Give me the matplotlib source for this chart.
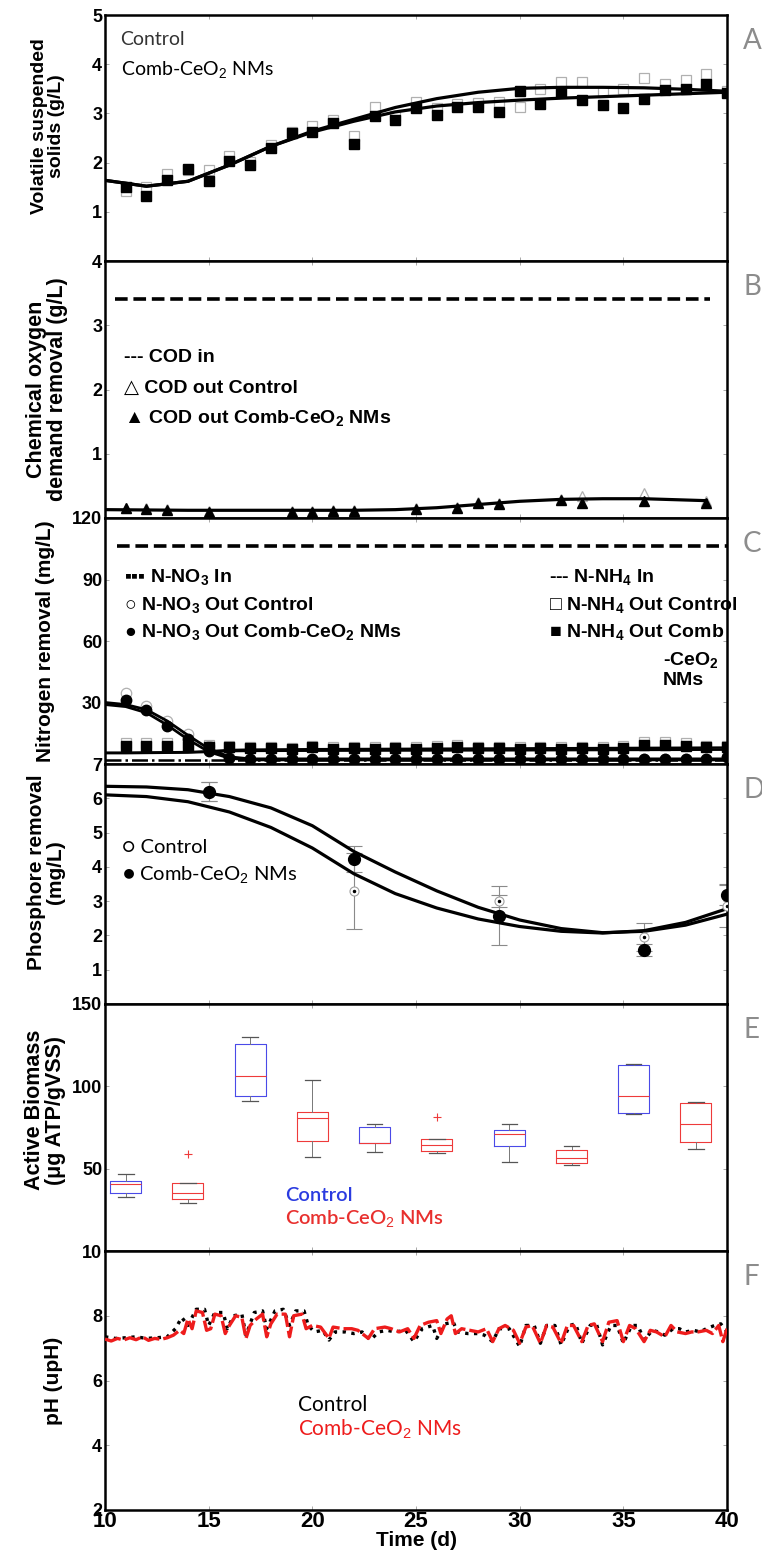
import numpy as np
import matplotlib
matplotlib.use('Agg')
import matplotlib.pyplot as plt

plt.rcParams['font.family'] = ['Liberation Sans', 'DejaVu Sans']
plt.rcParams['mathtext.fontset'] = 'custom'
plt.rcParams['mathtext.rm'] = 'Liberation Sans'
plt.rcParams['mathtext.bf'] = 'Liberation Sans:bold'

# ---------------- DATA ----------------
days = list(range(11, 41))

# Panel A: volatile suspended solids (g/L)
vss_ctrl = [1.42, 1.50, 1.77, 1.85, 1.84, 2.13, 2.02, 2.36, 2.62, 2.74, 2.87, 2.55, 3.12, 2.95, 3.23,
            3.10, 3.20, 3.22, 3.23, 3.14, 3.50, 3.64, 3.63, 3.43, 3.50, 3.71, 3.60, 3.67, 3.81, 3.45]
vss_ceo2 = [1.51, 1.33, 1.65, 1.86, 1.62, 2.04, 1.96, 2.30, 2.60, 2.62, 2.80, 2.38, 2.95, 2.86, 3.10,
            2.97, 3.14, 3.14, 3.03, 3.45, 3.19, 3.43, 3.28, 3.18, 3.10, 3.30, 3.48, 3.50, 3.60, 3.41]
fit_days = [10, 12, 14, 16, 18, 20, 22, 24, 26, 28, 30, 32, 34, 36, 38, 40]
vss_fit_ctrl = [1.64, 1.52, 1.62, 1.95, 2.33, 2.64, 2.88, 3.12, 3.30, 3.43, 3.51, 3.53, 3.53, 3.52, 3.49, 3.45]
vss_fit_ceo2 = [1.64, 1.52, 1.62, 1.95, 2.33, 2.62, 2.84, 3.03, 3.15, 3.22, 3.27, 3.31, 3.34, 3.37, 3.40, 3.43]

# Panel B: COD (g/L)
cod_in_value = 3.41
cod_in_span = [10.5, 39.2]
cod_days = [11, 12, 13, 15, 19, 20, 21, 22, 25, 27, 28, 29, 32, 33, 36, 39]
cod_ctrl = [0.16, 0.15, 0.14, 0.11, 0.11, 0.11, 0.12, 0.12, 0.15, 0.17, 0.25, 0.24, 0.30, 0.35, 0.39, 0.26]
cod_ceo2 = [0.15, 0.14, 0.125, 0.10, 0.10, 0.10, 0.11, 0.11, 0.135, 0.15, 0.23, 0.22, 0.28, 0.24, 0.27, 0.23]
cod_fit_days = [10, 14, 18, 22, 24, 26, 28, 30, 32, 34, 36, 38, 39]
cod_fit = [0.13, 0.12, 0.12, 0.12, 0.13, 0.16, 0.21, 0.26, 0.29, 0.30, 0.30, 0.28, 0.27]

# Panel C: nitrogen (mg/L)
nh4_in_value = 106.2
nh4_in_span = [10.6, 40]
no3_in_value = 1.8
no3_in_span = [10, 40]
no3_ctrl = [34.5, 28.4, 21.0, 14.4, 9.0, 3.5] + [2.5] * 23 + [3.5]
no3_ceo2 = [31.0, 26.5, 18.6, 12.0, 6.4, 3.0] + [2.5] * 23 + [3.5]
nh4_ctrl = [10.0, 10.0, 10.0, 10.0, 9.5, 9.0, 8.5, 8.5, 8.0, 8.7, 8.2, 8.5, 8.2, 8.5, 8.2,
            8.8, 9.5, 8.5, 8.3, 8.2, 8.3, 8.2, 8.5, 8.2, 8.7, 10.5, 10.5, 10.0, 9.0, 9.0]
nh4_ceo2 = [9.0, 9.0, 9.0, 9.0, 8.5, 8.2, 7.8, 7.8, 7.5, 8.2, 7.5, 7.8, 7.5, 7.8, 7.5,
            7.8, 8.5, 7.8, 7.8, 7.5, 7.8, 7.5, 7.8, 7.5, 8.0, 9.5, 9.5, 9.0, 8.3, 8.3]
n_fit_days = [10, 11, 12, 13, 14, 15, 16, 17, 20, 25, 30, 35, 40]
no3_fit_ctrl = [30.0, 29.0, 26.5, 21.0, 14.0, 7.5, 3.5, 2.5, 2.5, 2.5, 2.5, 2.5, 2.5]
no3_fit_ceo2 = [29.0, 28.0, 25.0, 19.0, 12.0, 6.0, 2.8, 2.0, 2.0, 2.0, 2.0, 2.0, 2.0]
nh4_fit_ctrl = [5.5, 5.5, 5.6, 5.7, 5.8, 6.2, 6.8, 7.0, 7.2, 7.4, 7.6, 7.8, 8.0]
nh4_fit_ceo2 = [5.3, 5.3, 5.4, 5.5, 5.6, 5.9, 6.3, 6.4, 6.5, 6.6, 6.7, 6.85, 7.0]

# Panel D: phosphorus (mg/L)
p_days = [15, 22, 29, 36, 40]
p_ctrl = [6.19, 3.30, 3.00, 1.95, 2.86]
p_ctrl_err = [0.28, 1.10, 0.17, 0.40, 0.60]
p_ceo2 = [6.19, 4.22, 2.57, 1.57, 3.19]
p_ceo2_err = [0.28, 0.38, 0.86, 0.17, 0.30]
p_fit_ctrl = [6.10, 6.05, 5.90, 5.60, 5.15, 4.55, 3.80, 3.22, 2.80, 2.48, 2.26, 2.12, 2.07, 2.14, 2.38, 2.78]
p_fit_ceo2 = [6.35, 6.33, 6.25, 6.05, 5.72, 5.20, 4.45, 3.85, 3.30, 2.82, 2.45, 2.20, 2.08, 2.12, 2.30, 2.62]

# Panel E: active biomass box plots (ug ATP/gVSS)
box_pos = [11, 14, 17, 20, 23, 26, 29.5, 32.5, 35.5, 38.5]
box_group = ['Control', 'CeO2'] * 5
box_whislo = [32.7, 29.0, 91.2, 57.1, 60.2, 59.6, 53.9, 52.0, 82.9, 62.0]
box_q1 = [35.3, 31.6, 94.3, 66.7, 65.3, 60.8, 63.5, 53.7, 83.7, 65.9]
box_med = [40.8, 35.5, 106.5, 80.6, 65.7, 64.5, 70.8, 56.7, 94.3, 77.1]
box_q3 = [42.4, 41.2, 126.0, 84.7, 75.1, 67.8, 73.3, 61.2, 112.9, 90.0]
box_whishi = [46.5, 41.4, 130.0, 104.0, 77.1, 67.8, 77.1, 63.9, 113.7, 90.2]
box_fliers = [[], [59.2], [], [], [], [81.2], [], [], [], []]

# Panel F: pH time series
ph_t_ceo2 = [10.0, 10.3, 10.6, 10.9, 11.2, 11.5, 11.8, 12.1, 12.4, 12.7, 13.0, 13.3, 13.6, 13.8, 14.0,
             14.2, 14.4, 14.7, 14.9, 15.1, 15.3, 15.6, 15.8, 16.0, 16.3, 16.6, 16.8, 17.0, 17.3, 17.6,
             17.8, 18.0, 18.3, 18.7, 18.9, 19.1, 19.5, 19.7, 20.0, 20.4, 20.8, 21.0, 21.5, 21.9, 22.2,
             22.7, 23.0, 23.5, 23.8, 24.2, 24.6, 24.9, 25.2, 25.6, 26.0, 26.2, 26.5, 26.7, 26.9, 27.2,
             27.6, 28.0, 28.4, 28.7, 29.0, 29.3, 29.7, 30.0, 30.3, 30.6, 31.0, 31.3, 31.6, 32.0, 32.3,
             32.6, 33.0, 33.3, 33.6, 34.0, 34.3, 34.7, 35.0, 35.3, 35.6, 36.0, 36.3, 36.6, 37.0, 37.3,
             37.6, 38.0, 38.3, 38.6, 39.0, 39.3, 39.6, 39.8, 40.0]
ph_ceo2 = [7.28, 7.22, 7.30, 7.25, 7.32, 7.26, 7.35, 7.24, 7.30, 7.27, 7.32, 7.40, 7.55, 7.45, 7.90,
           7.60, 8.15, 8.10, 7.55, 7.60, 8.05, 8.00, 7.45, 7.70, 8.00, 7.95, 7.30, 7.70, 7.90, 8.05,
           7.35, 7.75, 8.05, 8.05, 7.35, 8.00, 8.05, 7.60, 7.70, 7.65, 7.30, 7.65, 7.60, 7.60, 7.55,
           7.30, 7.60, 7.65, 7.60, 7.50, 7.60, 7.30, 7.70, 7.80, 7.85, 7.45, 7.90, 8.00, 7.45, 7.60,
           7.55, 7.50, 7.60, 7.20, 7.60, 7.70, 7.55, 7.15, 7.65, 7.70, 7.15, 7.70, 7.65, 7.15, 7.70,
           7.70, 7.20, 7.70, 7.75, 7.20, 7.80, 7.85, 7.20, 7.70, 7.60, 7.20, 7.55, 7.50, 7.35, 7.70,
           7.50, 7.45, 7.50, 7.50, 7.55, 7.45, 7.70, 7.20, 7.60]
ph_t_ctrl = [10.0, 10.5, 11.0, 11.5, 12.0, 12.5, 13.0, 13.4, 13.7, 14.0, 14.4, 14.8, 15.0, 15.3, 15.7,
             15.9, 16.2, 16.6, 16.8, 17.2, 17.6, 17.8, 18.2, 18.6, 18.9, 19.2, 19.6, 19.8, 20.1, 20.5,
             20.8, 21.1, 21.6, 22.0, 22.4, 22.8, 23.2, 23.6, 24.0, 24.5, 24.9, 25.3, 25.8, 26.0, 26.4,
             26.8, 27.0, 27.5, 28.0, 28.3, 28.7, 29.0, 29.5, 30.0, 30.3, 30.7, 31.0, 31.3, 31.7, 32.0,
             32.4, 32.7, 33.0, 33.4, 33.7, 34.0, 34.4, 34.7, 35.0, 35.4, 35.7, 36.0, 36.4, 36.7, 37.0,
             37.4, 37.7, 38.0, 38.4, 38.7, 39.0, 39.4, 39.7, 40.0]
ph_ctrl = [7.35, 7.30, 7.32, 7.35, 7.30, 7.32, 7.35, 7.60, 7.95, 7.70, 8.20, 8.20, 7.70, 8.10, 8.10,
           7.60, 8.00, 8.05, 7.40, 8.10, 8.15, 7.60, 8.15, 8.20, 7.70, 8.15, 8.15, 7.70, 7.50, 7.55,
           7.25, 7.50, 7.50, 7.45, 7.50, 7.25, 7.50, 7.55, 7.50, 7.55, 7.20, 7.60, 7.70, 7.30, 7.75,
           7.80, 7.50, 7.45, 7.45, 7.40, 7.20, 7.60, 7.60, 7.05, 7.70, 7.70, 7.15, 7.70, 7.70, 7.10,
           7.70, 7.75, 7.15, 7.70, 7.75, 7.10, 7.70, 7.70, 7.15, 7.70, 7.70, 7.25, 7.55, 7.50, 7.40,
           7.60, 7.60, 7.50, 7.55, 7.50, 7.60, 7.70, 7.75, 7.50]

x_ticks = [10, 15, 20, 25, 30, 35, 40]

# ---------------- FIGURE ----------------
W, H = 762, 1557
fig = plt.figure(figsize=(W / 100, H / 100), dpi=100)

left_px, right_px = 105, 727
panels_px = [(15, 261), (261, 518), (518, 764), (764, 1004), (1004, 1251), (1251, 1510)]
axes = []
for (t, b) in panels_px:
    ax = fig.add_axes([left_px / W, 1 - b / H, (right_px - left_px) / W, (b - t) / H])
    axes.append(ax)

bold = dict(fontweight='bold')
tickfont = 13
narrow = ['Liberation Sans Narrow', 'Liberation Sans', 'DejaVu Sans']
avenir = ['Lato', 'DejaVu Sans']

for i, ax in enumerate(axes):
    ax.set_xlim(10, 40)
    ax.set_xticks(x_ticks)
    for s in ax.spines.values():
        s.set_linewidth(1.8)
        s.set_color('black')
    ax.tick_params(direction='in', length=3, width=0.6, color='#9a9a9a',
                   top=True, right=True, labelsize=tickfont, pad=2)
    for lab in ax.get_yticklabels():
        lab.set_fontweight('bold')
    if i < 5:
        ax.tick_params(labelbottom=False)

# ---- Panel A
ax = axes[0]
ax.plot(days, vss_ctrl, 's', ms=7, mfc='white', mec='#b0b0b0', mew=0.9, zorder=2)
ax.plot(days, vss_ceo2, 's', ms=7, mfc='black', mec='black', zorder=4)
ax.plot(fit_days, vss_fit_ctrl, '-', color='black', lw=2.3, zorder=3)
ax.plot(fit_days, vss_fit_ceo2, '-', color='black', lw=2.3, zorder=3)
ax.set_ylim(0, 5)
ax.set_yticks([1, 2, 3, 4, 5])
ax.text(10.75, 4.5, 'Control', fontsize=14, color='#333333', family=avenir, va='center')
ax.text(10.75, 3.88, r'Comb-CeO$_2$ NMs', fontsize=14, color='black', family=avenir, va='center')
ax.set_ylabel('Volatile suspended\nsolids (g/L)', fontsize=14, linespacing=1.0, **bold)
ax.yaxis.set_label_coords(-0.064, 0.55)

# ---- Panel B
ax = axes[1]
ax.plot(cod_in_span, [cod_in_value] * 2, '--', color='black', lw=2.6, dashes=(3.5, 1.6))
ax.plot(cod_days, cod_ctrl, '^', ms=7, mfc='white', mec='#b0b0b0', mew=0.9, zorder=2)
ax.plot(cod_fit_days, cod_fit, '-', color='black', lw=2.3, zorder=3)
ax.plot(cod_days, cod_ceo2, '^', ms=7, mfc='black', mec='black', zorder=4)
ax.set_ylim(0, 4)
ax.set_yticks([1, 2, 3, 4])
lb = dict(fontsize=14, family=narrow, va='center', **bold)
ax.text(10.9, 2.5, '--- COD in', **lb)
ax.text(10.9, 2.01, '△ COD out Control', **lb)
ax.text(10.9, 1.54, r'▲ COD out Comb-CeO$_\mathbf{2}$ NMs', **lb)
ax.set_ylabel('Chemical oxygen\ndemand removal (g/L)', fontsize=15.5, linespacing=1.0, **bold)
ax.yaxis.set_label_coords(-0.06, 0.5)

# ---- Panel C
ax = axes[2]
ax.plot(nh4_in_span, [nh4_in_value] * 2, '--', color='black', lw=2.6, dashes=(3.5, 1.6))
ax.plot(no3_in_span, [no3_in_value] * 2, '-.', color='black', lw=1.8)
ax.plot(days, nh4_ctrl, 's', ms=7.5, mfc='white', mec='#b0b0b0', mew=0.9, zorder=2)
ax.plot(days, no3_ctrl, 'o', ms=7.5, mfc='white', mec='#b0b0b0', mew=0.9, zorder=2)
ax.plot(days, nh4_ceo2, 's', ms=7.5, mfc='black', mec='black', zorder=4)
ax.plot(days, no3_ceo2, 'o', ms=7.5, mfc='black', mec='black', zorder=4)
ax.plot(n_fit_days, no3_fit_ctrl, '-', color='black', lw=2.0, zorder=3)
ax.plot(n_fit_days, no3_fit_ceo2, '-', color='black', lw=2.0, zorder=3)
ax.plot(n_fit_days, nh4_fit_ctrl, '-', color='black', lw=1.8, zorder=3)
ax.plot(n_fit_days, nh4_fit_ceo2, '-', color='black', lw=1.8, zorder=3)
ax.set_ylim(0, 120)
ax.set_yticks([30, 60, 90, 120])
lf = dict(fontsize=14, family=narrow, va='center', **bold)
ax.text(10.9, 90.8, r'▪▪▪ N-NO$_\mathbf{3}$ In', **lf)
ax.text(10.9, 77.1, r'○ N-NO$_\mathbf{3}$ Out Control', **lf)
ax.text(10.9, 64.1, r'● N-NO$_\mathbf{3}$ Out Comb-CeO$_\mathbf{2}$ NMs', **lf)
ax.text(31.4, 90.8, r'--- N-NH$_\mathbf{4}$ In', **lf)
ax.text(31.4, 77.1, r'□ N-NH$_\mathbf{4}$ Out Control', **lf)
ax.text(31.4, 64.1, r'■ N-NH$_\mathbf{4}$ Out Comb', **lf)
ax.text(36.9, 50.3, r'-CeO$_\mathbf{2}$', **lf)
ax.text(36.9, 40.6, 'NMs', **lf)
ax.set_ylabel('Nitrogen removal (mg/L)', fontsize=15, **bold)
ax.yaxis.set_label_coords(-0.08, 0.5)

# ---- Panel D
ax = axes[3]
ax.errorbar(p_days, p_ctrl, yerr=p_ctrl_err, fmt='none', ecolor='#8a8a8a', elinewidth=0.8,
            capsize=6, capthick=0.8, zorder=1)
ax.errorbar(p_days, p_ceo2, yerr=p_ceo2_err, fmt='none', ecolor='#8a8a8a', elinewidth=0.8,
            capsize=6, capthick=0.8, zorder=1)
ax.plot(fit_days, p_fit_ctrl, '-', color='black', lw=2.3, zorder=3)
ax.plot(fit_days, p_fit_ceo2, '-', color='black', lw=2.3, zorder=3)
ax.plot(p_days, p_ctrl, 'o', ms=6.5, mfc='white', mec='#a0a0a0', mew=0.8, zorder=3.5)
ax.plot(p_days, p_ctrl, '.', ms=3, color='black', zorder=3.6)
ax.plot(p_days, p_ceo2, 'o', ms=8.5, mfc='black', mec='black', zorder=4)
ax.set_ylim(0, 7)
ax.set_yticks([1, 2, 3, 4, 5, 6, 7])
ax.text(10.8, 4.57, '○ Control', fontsize=14.5, family=avenir, va='center')
ax.text(10.8, 3.76, r'● Comb-CeO$_2$ NMs', fontsize=14.5, family=avenir, va='center')
ax.set_ylabel('Phosphore removal\n(mg/L)', fontsize=15, linespacing=1.0, **bold)
ax.yaxis.set_label_coords(-0.064, 0.55)

# ---- Panel E
ax = axes[4]
blue, red = '#4a4ae8', '#ee3a3a'
stats = []
for k in range(len(box_pos)):
    stats.append(dict(whislo=box_whislo[k], q1=box_q1[k], med=box_med[k], q3=box_q3[k],
                      whishi=box_whishi[k], fliers=box_fliers[k]))
for k, st in enumerate(stats):
    col = blue if box_group[k] == 'Control' else red
    ax.bxp([st], positions=[box_pos[k]], widths=1.5, manage_ticks=False,
           boxprops=dict(color=col, lw=0.8),
           medianprops=dict(color=red, lw=0.8),
           whiskerprops=dict(color='#777777', lw=0.7),
           capprops=dict(color='#555555', lw=0.9),
           capwidths=0.75,
           flierprops=dict(marker='+', markeredgecolor=red, markersize=6, markeredgewidth=0.8))
ax.set_ylim(0, 150)
ax.set_yticks([50, 100, 150])
ax.text(18.7, 33.7, 'Control', fontsize=14.5, color='#2a3be0', family=avenir, va='center',
        fontweight='semibold')
ax.text(18.7, 19.4, r'Comb-CeO$_2$ NMs', fontsize=14.5, color='#e8302e', family=avenir, va='center',
        fontweight='semibold')
ax.set_ylabel('Active Biomass\n(μg ATP/gVSS)', fontsize=15.5, linespacing=1.0, **bold)
ax.yaxis.set_label_coords(-0.062, 0.57)

# ---- Panel F
ax = axes[5]
ax.plot(ph_t_ctrl, ph_ctrl, ':', color='black', lw=2.4, zorder=2)
ax.plot(ph_t_ceo2, ph_ceo2, '--', color='#ee1c1c', lw=2.4, dashes=(5, 1.2), zorder=3)
ax.set_ylim(2, 10)
ax.set_yticks([2, 4, 6, 8, 10])
ax.text(19.3, 5.23, 'Control', fontsize=15, color='black', family=avenir, va='center')
ax.text(19.3, 4.5, r'Comb-CeO$_2$ NMs', fontsize=15, color='#ee1c1c', family=avenir, va='center')
ax.set_ylabel('pH (upH)', fontsize=15, **bold)
ax.yaxis.set_label_coords(-0.068, 0.5)
for lab in ax.get_xticklabels():
    lab.set_fontweight('bold')
ax.tick_params(axis='x', labelsize=16, pad=1)
ax.set_xlabel('Time (d)', fontsize=15, labelpad=-1, **bold)

# Panel letters
for letter, (t, b) in zip('ABCDEF', panels_px):
    fig.text(743 / W, 1 - (t + 26) / H, letter, fontsize=20, color='#8c8c8c',
             family=['Lato', 'DejaVu Sans'], fontweight='normal', va='center', ha='left')

fig.savefig('out.png', dpi=100)
